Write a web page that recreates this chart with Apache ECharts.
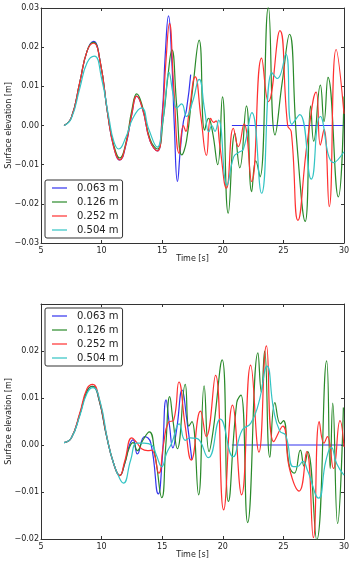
<!DOCTYPE html>
<html>
<head>
<meta charset="utf-8">
<script src="https://cdn.jsdelivr.net/npm/echarts@6/dist/echarts.min.js"></script>
<style>
  html, body { margin: 0; padding: 0; background: #fff; }
  #chart { width: 349px; height: 561px; }
</style>
</head>
<body>
<div id="chart"></div>
<script>
// 图例名称
var names = ['0.063 m', '0.126 m', '0.252 m', '0.504 m'];
var colors = ['#3333ee', '#2a8a2a', '#ff3030', '#33c4c4'];

// 上图 [t, 水面高程]
var topBlueA = [[6.9,0],[7.5,0.002],[8.2,0.011],[8.8,0.019],[9.33,0.0215],[9.9,0.016],[10.5,0.003],[11.0,-0.0055],[11.5,-0.0088],[12.0,-0.005],[12.5,0.003],[12.9,0.0075],[13.4,0.004],[14.0,-0.004],[14.6,-0.0065],[15.0,0.003],[15.25,0.018],[15.52,0.028],[15.8,0.016],[16.0,0.0],[16.26,-0.0143],[16.5,-0.006],[16.75,0.001],[17.0,0.004],[17.35,0.013]];
var topBlueB = [[20.75,0],[25,0],[30,0]];
var topGreen = [[6.9,0],[7.5,0.002],[8.2,0.011],[8.8,0.019],[9.33,0.0212],[9.9,0.016],[10.5,0.003],[11.0,-0.005],[11.5,-0.0083],[12.0,-0.0045],[12.5,0.004],[12.9,0.0081],[13.4,0.0045],[14.0,-0.0035],[14.6,-0.006],[15.1,0.002],[15.45,0.012],[15.8,0.0193],[16.2,0.005],[16.62,-0.0075],[17.0,-0.004],[17.5,0.009],[18.05,0.0218],[18.5,-0.0012],[18.82,0.0018],[19.15,-0.0016],[19.58,-0.01],[19.97,0.0073],[20.45,-0.0224],[21.0,-0.002],[21.4,-0.0108],[21.95,0.005],[22.38,-0.0169],[22.72,-0.009],[23.07,-0.0131],[23.76,0.0302],[24.31,-0.0024],[24.9,0.011],[25.5,0.0233],[26.1,-0.004],[26.8,-0.0245],[27.25,0.005],[27.5,-0.004],[28.05,0.0103],[28.35,0.001],[28.68,0.0123],[29.53,-0.0182],[30,0.0074]];
var topRed = [[6.9,0],[7.5,0.002],[8.2,0.011],[8.8,0.019],[9.33,0.021],[9.9,0.016],[10.5,0.003],[11.0,-0.0055],[11.5,-0.0088],[12.0,-0.0048],[12.5,0.003],[12.9,0.0075],[13.4,0.004],[14.0,-0.004],[14.6,-0.0065],[15.0,0.002],[15.3,0.016],[15.6,0.0261],[15.95,0.01],[16.4,-0.0071],[16.75,0.0],[16.95,-0.0015],[17.2,0.003],[17.72,0.0124],[18.2,0.002],[18.65,-0.0076],[19.0,0.0018],[19.25,0.0008],[19.45,0.0012],[19.75,-0.005],[20.3,-0.016],[20.87,-0.0007],[21.28,-0.0054],[21.75,0.0004],[22.38,-0.0143],[23.2,0.0172],[23.76,0.0061],[24.71,0.0242],[25.35,0.0],[25.65,-0.0016],[26.2,-0.0242],[26.98,-0.004],[27.7,0.0085],[28.05,-0.005],[28.35,-0.001],[28.78,-0.0207],[29.35,0.0194],[30,0.003]];
var topCyan = [[6.9,0],[7.5,0.0018],[8.2,0.0095],[8.8,0.016],[9.4,0.0177],[10.0,0.012],[10.6,0.002],[11.0,-0.004],[11.4,-0.006],[12.0,-0.003],[12.6,0.002],[13.3,0.0045],[13.9,-0.001],[14.6,-0.0055],[15.0,0.0],[15.3,0.008],[15.55,0.0136],[15.9,0.008],[16.2,0.0045],[16.6,0.0055],[17.0,0.0023],[17.5,0.006],[18.05,0.0118],[18.5,0.004],[18.85,-0.0016],[19.1,0.0],[19.35,-0.0015],[19.65,0.0014],[20.35,-0.0152],[20.9,-0.008],[21.3,-0.0069],[21.7,-0.006],[22.4,0.0033],[23.2,-0.0173],[24.05,0.0135],[24.5,0.012],[25.2,0.0182],[25.7,0.0003],[26.35,0.0028],[27.3,-0.0137],[28.05,0.0023],[29.15,-0.0095],[30,-0.0067]];

// 下图 [t, 水面高程]
var botBlueA = [[6.9,0.0005],[7.5,0.0015],[8.2,0.0065],[8.8,0.0115],[9.27,0.0125],[9.8,0.0095],[10.4,0.002],[11.0,-0.004],[11.5,-0.0065],[11.9,-0.004],[12.3,0.0],[12.6,0.0011],[12.95,-0.0019],[13.55,0.0018],[14.05,0.0005],[14.68,-0.0104],[15.0,-0.003],[15.32,0.0096],[15.6,0.0042],[15.88,-0.0006],[16.2,0.0035],[16.65,0.0117],[17.0,0.006],[17.45,-0.0032]];
var botBlueB = [[20.75,0],[25,0],[30,0]];
var botGreen = [[6.9,0.0005],[7.5,0.0015],[8.2,0.0065],[8.8,0.0115],[9.27,0.0125],[9.8,0.0095],[10.4,0.002],[11.0,-0.004],[11.5,-0.0065],[11.9,-0.004],[12.3,-0.0005],[12.6,0.0005],[12.95,-0.0012],[13.4,0.001],[13.94,0.0028],[14.4,-0.002],[14.97,-0.0112],[15.3,0.0],[15.62,0.0103],[15.9,0.005],[16.25,-0.0008],[16.9,0.0129],[17.2,0.004],[17.45,0.005],[18.0,-0.0106],[18.46,0.0126],[18.87,-0.0014],[19.2,0.003],[19.95,0.0181],[20.46,-0.012],[21.15,0.009],[21.5,0.0106],[22.05,-0.0165],[22.9,0.0196],[23.18,0.0113],[23.45,0.02],[23.88,-0.0026],[24.3,0.009],[24.75,0.0045],[25.0,0.0052],[25.5,-0.0046],[25.9,-0.006],[26.4,-0.0011],[26.7,-0.0045],[27.0,-0.0014],[27.75,-0.0202],[28.57,0.0179],[28.86,-0.005],[29.07,0.0089],[29.47,-0.0167],[29.95,0.008]];
var botRed = [[6.9,0.0005],[7.5,0.0015],[8.2,0.0068],[8.8,0.012],[9.27,0.0129],[9.8,0.0098],[10.4,0.0022],[11.0,-0.004],[11.5,-0.0065],[11.9,-0.0035],[12.5,0.0015],[12.9,0.0005],[13.3,-0.0008],[13.8,-0.0012],[14.13,-0.0011],[14.72,-0.006],[15.1,0.0],[15.5,0.0048],[15.95,0.0053],[16.38,0.0134],[16.9,0.004],[17.4,-0.0032],[18.16,0.0072],[18.63,0.0018],[19.4,0.0148],[20.07,-0.0138],[20.8,0.0085],[21.55,-0.0106],[22.3,0.017],[22.98,-0.0015],[23.6,0.0211],[24.2,0.0007],[24.95,0.004],[25.5,-0.005],[26.3,-0.0098],[26.92,-0.0014],[27.47,-0.0197],[27.96,0.005],[28.35,0.0004],[28.63,0.0018],[29.13,-0.005],[29.67,0.0052],[30,-0.0004]];
var botCyan = [[6.9,0.0005],[7.5,0.0015],[8.2,0.0062],[8.8,0.011],[9.3,0.0122],[9.9,0.009],[10.5,0.001],[11.0,-0.004],[11.5,-0.0072],[11.8,-0.0081],[12.4,-0.0032],[12.9,0.0004],[13.5,0.0004],[14.13,0.0],[14.5,-0.002],[14.96,-0.0046],[15.37,-0.0017],[15.8,0.0005],[16.4,0.0045],[16.9,0.001],[17.3,0.0015],[17.85,0.0014],[18.8,-0.0027],[19.8,0.0055],[20.85,-0.0025],[21.6,0.0032],[22.3,0.0046],[22.96,0.0089],[23.65,0.0168],[24.2,0.0074],[24.7,0.003],[25.2,0.002],[25.8,-0.0046],[26.15,-0.0046],[26.6,-0.0035],[27.0,-0.0055],[27.9,-0.0113],[28.5,-0.0034],[28.95,-0.0005],[29.4,-0.004],[30,-0.0064]];

// 坐标轴刻度
var xTicks = [5, 10, 15, 20, 25, 30];
var topYRange = [-0.03, 0.03];
var botYRange = [-0.02, 0.03];

var font = 'DejaVu Sans';
var myChart = echarts.init(document.getElementById('chart'));

function xAx(g, pos) {
    var main = pos === 'bottom';
    return {
        type: 'value', gridIndex: g, position: pos,
        min: xTicks[0], max: xTicks[xTicks.length - 1], interval: 5,
        name: main ? 'Time [s]' : '', nameLocation: 'middle', nameGap: 12, nameMoveOverlap: false,
        nameTextStyle: { fontFamily: font, fontSize: 8, color: '#222' },
        axisLine: { show: true, onZero: false, lineStyle: { color: '#333', width: 1 } },
        axisTick: { show: true, inside: true, length: 3, lineStyle: { color: '#333' } },
        axisLabel: { show: main, fontFamily: font, fontSize: 8, color: '#222', margin: 4 },
        splitLine: { show: false }
    };
}

function yAx(g, pos, range, hideTop) {
    var main = pos === 'left';
    return {
        type: 'value', gridIndex: g, position: pos,
        min: range[0], max: range[1], interval: 0.01,
        name: main ? 'Surface elevation [m]' : '', nameLocation: 'middle', nameGap: 28, nameMoveOverlap: false,
        nameTextStyle: { fontFamily: font, fontSize: 8, color: '#222' },
        axisLine: { show: true, onZero: false, lineStyle: { color: '#333', width: 1 } },
        axisTick: { show: true, inside: true, length: 3, lineStyle: { color: '#333' } },
        axisLabel: {
            show: main, fontFamily: font, fontSize: 8, color: '#222', margin: 2,
            formatter: function (v) {
                var r = Math.round(v * 100);
                if (hideTop && r === 3) return '';
                return (r < 0 ? '\u2212' : '') + Math.abs(r / 100).toFixed(2);
            }
        },
        splitLine: { show: false }
    };
}

function withGap(a, b) {
    return a.concat([[19, '-']], b);
}

function line(name, color, pts, g) {
    return {
        name: name, type: 'line', xAxisIndex: g * 2, yAxisIndex: g * 2,
        data: pts, symbol: 'none', showSymbol: false,
        smooth: 0.5, connectNulls: false,
        lineStyle: { width: 1.2, color: color }, itemStyle: { color: color },
        emphasis: { disabled: true }
    };
}

function legend(top) {
    return {
        orient: 'vertical', left: 45, top: top, data: names,
        icon: 'rect', itemWidth: 15, itemHeight: 1.2, itemGap: 4,
        padding: [3, 4, 3, 7],
        backgroundColor: '#fff', borderColor: '#333', borderWidth: 1, borderRadius: 2,
        textStyle: { fontFamily: font, fontSize: 10, color: '#222', lineHeight: 10, padding: [0, 0, 0, 5] },
        selectedMode: false
    };
}

var option = {
    animation: false,
    backgroundColor: '#fff',
    grid: [
        { left: 41, top: 8, width: 303, height: 235, outerBoundsMode: 'none', containLabel: false },
        { left: 41, top: 304, width: 303, height: 235, outerBoundsMode: 'none', containLabel: false }
    ],
    xAxis: [xAx(0, 'bottom'), xAx(0, 'top'), xAx(1, 'bottom'), xAx(1, 'top')],
    yAxis: [
        yAx(0, 'left', topYRange, false), yAx(0, 'right', topYRange, false),
        yAx(1, 'left', botYRange, true), yAx(1, 'right', botYRange, true)
    ],
    legend: [legend(180), legend(308)],
    series: [
        line(names[0], colors[0], withGap(topBlueA, topBlueB), 0),
        line(names[1], colors[1], topGreen, 0),
        line(names[2], colors[2], topRed, 0),
        line(names[3], colors[3], topCyan, 0),
        line(names[0], colors[0], withGap(botBlueA, botBlueB), 1),
        line(names[1], colors[1], botGreen, 1),
        line(names[2], colors[2], botRed, 1),
        line(names[3], colors[3], botCyan, 1)
    ]
};
myChart.setOption(option);
</script>
</body>
</html>
